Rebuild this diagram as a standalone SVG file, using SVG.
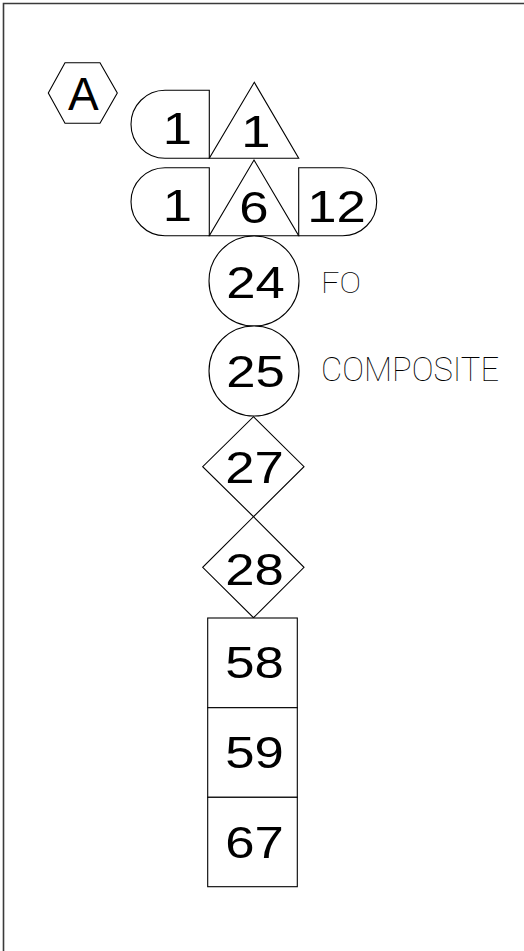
<svg xmlns="http://www.w3.org/2000/svg" width="524" height="951" viewBox="0 0 524 951">
<style>
.s{fill:#fff;stroke:#000;stroke-width:1.1}
.n{font-family:"Liberation Sans",Arial,sans-serif;font-size:45px;fill:#000;text-anchor:middle}
.l{font-family:Roboto,"DejaVu Sans",sans-serif;font-weight:100;fill:#000}
</style>
<rect width="524" height="951" fill="#fff"/>
<path d="M3.5,951 V3.5 H524" fill="none" stroke="#3a3a3a" stroke-width="1.6"/>
<g id="hexA">
<polygon class="s" points="48.3,93 65,62.7 100,62.7 117.3,93 100,123.3 65,123.3"/>
<text class="n" x="83.3" y="110" style="font-size:46px">A</text>
</g>
<g id="n1a">
<path class="s" d="M209.3,90.3 H165 A34,34 0 0 0 165,158.3 H209.3 Z"/>
<text class="n" transform="translate(177.5,144) scale(1.17,1)">1</text>
</g>
<g id="t1">
<path class="s" d="M254.3,82.3 L298.7,158.3 L209.3,158.3 Z"/>
<text class="n" transform="translate(256,147.3) scale(1.17,1)">1</text>
</g>
<g id="n1b">
<path class="s" d="M209.3,167.7 H165 A34,34 0 0 0 165,235.7 H209.3 Z"/>
<text class="n" transform="translate(177.5,220.7) scale(1.17,1)">1</text>
</g>
<g id="t6">
<path class="s" d="M254,160 L298.7,235.7 L209.3,235.7 Z"/>
<text class="n" transform="translate(254,222.7) scale(1.17,1)">6</text>
</g>
<g id="n12">
<path class="s" d="M298.7,167.7 H342.7 A34,34 0 0 1 342.7,235.7 H298.7 Z"/>
<text class="n" transform="translate(336.5,221.7) scale(1.17,1)">12</text>
</g>
<g id="c24">
<circle class="s" cx="254" cy="281" r="45"/>
<text class="n" transform="translate(255.5,298) scale(1.17,1)">24</text>
<text class="l" x="321" y="292.7" style="font-size:30px" textLength="40" lengthAdjust="spacingAndGlyphs">FO</text>
</g>
<g id="c25">
<circle class="s" cx="254" cy="371" r="45"/>
<text class="n" transform="translate(255.5,386.7) scale(1.17,1)">25</text>
<text class="l" x="321" y="381" style="font-size:34px" textLength="178" lengthAdjust="spacingAndGlyphs">COMPOSITE</text>
</g>
<g id="d27">
<polygon class="s" points="253.5,416.7 304,466.7 253.5,516.7 202.7,466.7"/>
<text class="n" transform="translate(254.5,483.3) scale(1.17,1)">27</text>
</g>
<g id="d28">
<polygon class="s" points="253.5,516.7 304,567.3 253.5,617.7 202.7,567.3"/>
<text class="n" transform="translate(254.5,585) scale(1.17,1)">28</text>
</g>
<g id="b58">
<rect class="s" x="207.7" y="618" width="89.6" height="89.7"/>
<text class="n" transform="translate(254.5,677.5) scale(1.17,1)">58</text>
</g>
<g id="b59">
<rect class="s" x="207.7" y="707.7" width="89.6" height="89.6"/>
<text class="n" transform="translate(254.5,768.3) scale(1.17,1)">59</text>
</g>
<g id="b67">
<rect class="s" x="207.7" y="797.3" width="89.6" height="89.4"/>
<text class="n" transform="translate(254.5,858.3) scale(1.17,1)">67</text>
</g>
<g id="connectors"/>
</svg>
